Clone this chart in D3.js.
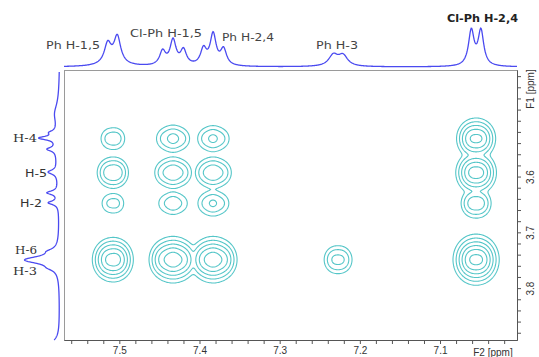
<!DOCTYPE html>
<html><head><meta charset="utf-8">
<script src="https://cdn.jsdelivr.net/npm/d3@7"></script>
<style>html,body{margin:0;padding:0;background:#fff;} svg{display:block;}</style>
</head><body>
<svg id="c" width="539" height="357"></svg>
<script>
// ================= DATA =================
const f2Domain = [7.569, 7.004];          // ppm, left -> right
const f1Domain = [3.409, 3.893];          // ppm, top -> bottom
const f2MajorTicks = [7.5, 7.4, 7.3, 7.2, 7.1];
const f1MajorTicks = [3.6, 3.7, 3.8];
const f2Title = "F2 [ppm]";
const f1Title = "F1 [ppm]";

// top (F2) projection: peak list
const topPeakPpm    = [7.5145, 7.5025, 7.508, 7.446, 7.433, 7.420, 7.395, 7.383, 7.370, 7.233, 7.221, 7.061, 7.049];
const topPeakHeight = [19, 26, 4, 14, 25, 15, 16, 31, 16, 11, 10.5, 35, 35];
const topPeakWidth  = [0.005, 0.005, 0.015, 0.0045, 0.0045, 0.0045, 0.0045, 0.0045, 0.0045, 0.007, 0.007, 0.0042, 0.0042];
const topLabels = ["Ph H-1,5", "Cl-Ph H-1,5", "Ph H-2,4", "Ph H-3", "Cl-Ph H-2,4"];

// left (F1) projection: peak list
const leftPeakPpm    = [3.487, 3.56, 3.521, 3.531, 3.551, 3.592, 3.629, 3.647, 3.734, 3.7495, 3.764, 3.905];
const leftPeakHeight = [4, 3, 6, 17, 9, 9, 11, 10, 6, 34, 5, 14];
const leftPeakWidth  = [0.02, 0.06, 0.004, 0.0038, 0.004, 0.0045, 0.004, 0.004, 0.005, 0.008, 0.005, 0.01];
const leftLabels = ["H-4", "H-5", "H-2", "H-6", "H-3"];

// 2D cross peaks: columns (F2 multiplets) x rows (F1 positions)
const colF2  = [[7.5145, 7.5025], [7.446, 7.433, 7.420], [7.395, 7.383, 7.370], [7.233, 7.221], [7.061, 7.049]];
const colRel = [[0.85, 1], [0.45, 1, 0.45], [0.45, 1, 0.45], [1, 0.95], [1, 1]];
const rowF1  = [[3.532], [3.593], [3.648], [3.745, 3.753]];
const crossAmp = [
  [2.2, 3.1, 2.9, 0,   7.5],
  [4.0, 4.0, 4.0, 0,   8.5],
  [1.9, 2.3, 2.8, 0,   3.6],
  [8.5, 9.5, 9.5, 3.0, 12.5]
];
const contourLevels = [1, 1.6, 2.56, 4.1, 6.55, 10.5, 16.8];

// ================= DRAW =================
const svg = d3.select("#c");
const L = 64, R = 517, T = 70, B = 340;
const x = d3.scaleLinear().domain(f2Domain).range([L, R]);
const y = d3.scaleLinear().domain(f1Domain).range([T, B]);

const lor = (p, c, h, w) => h / (1 + ((p - c) / w) ** 2);

// frame
svg.append("rect").attr("x", L + 0.5).attr("y", T + 0.5).attr("width", R - L).attr("height", B - T)
  .attr("fill", "none").attr("stroke", "#9a9a9a").attr("stroke-width", 1);

// ---- contours ----
const wx = 0.015, wy = 0.026;
function shape(dx, dy) {
  const q = 1 + (dx / wx) ** 2 + (dy / wy) ** 2;
  return 1 / (q * q);
}
const peaks2d = [];
crossAmp.forEach((row, r) => row.forEach((A, c) => {
  if (!A) return;
  const parts = [];
  colF2[c].forEach((f2, k) => rowF1[r].forEach(f1 => parts.push({f2, f1, w: colRel[c][k]})));
  const cf2 = d3.mean(colF2[c]), cf1 = d3.mean(rowF1[r]);
  const norm = d3.sum(parts, p => p.w * shape(cf2 - p.f2, cf1 - p.f1));
  peaks2d.push({cf2, cf1, parts: parts.map(p => ({f2: p.f2, f1: p.f1, a: A * p.w / norm}))});
}));
const nx = R - L, ny = B - T, K = 4;
const values = new Float64Array(nx * ny);
for (let j = 0; j < ny; j++) {
  const f1 = y.invert(T + j + 0.5);
  for (let i = 0; i < nx; i++) {
    const f2 = x.invert(L + i + 0.5);
    let acc = 0;
    for (const pk of peaks2d) {
      if (Math.abs(f2 - pk.cf2) > 0.12 || Math.abs(f1 - pk.cf1) > 0.2) continue;
      let v = 0;
      for (const p of pk.parts) v += p.a * shape(f2 - p.f2, f1 - p.f1);
      acc += v ** K;
    }
    values[j * nx + i] = acc ** (1 / K);
  }
}
const contours = d3.contours().size([nx, ny]).thresholds(contourLevels)(Array.from(values));
svg.append("g").attr("transform", `translate(${L},${T})`)
  .selectAll("path").data(contours).join("path")
  .attr("d", d3.geoPath())
  .attr("fill", "none").attr("stroke", "#55c6c8").attr("stroke-width", 1.1)
  .attr("stroke-linejoin", "round");

// ---- top projection ----
const topY = d3.scaleLinear().domain([0, 40]).range([67, 27]);
const topPts = d3.range(0, 901).map(k => {
  const p = f2Domain[0] + (f2Domain[1] - f2Domain[0]) * k / 900;
  return [p, d3.sum(topPeakPpm, (c, i) => lor(p, c, topPeakHeight[i], topPeakWidth[i]))];
});
svg.append("path").datum(topPts)
  .attr("d", d3.line().x(d => x(d[0])).y(d => topY(d[1])))
  .attr("fill", "none").attr("stroke", "#4a4af0").attr("stroke-width", 1.3);

// ---- left projection ----
const leftX = d3.scaleLinear().domain([0, 40]).range([60, 20]);
const leftPts = d3.range(0, 701).map(k => {
  const p = y.invert(72 + (B - 72) * k / 700);
  return [p, d3.sum(leftPeakPpm, (c, i) => lor(p, c, leftPeakHeight[i], leftPeakWidth[i]))];
});
svg.append("path").datum(leftPts)
  .attr("d", d3.line().x(d => leftX(d[1])).y(d => y(d[0])))
  .attr("fill", "none").attr("stroke", "#4a4af0").attr("stroke-width", 1.3);

// ---- axes ----
const f2Minor = d3.range(7.56, 7.0, -0.02).map(v => +v.toFixed(2));
const isMajor = (v, arr) => arr.some(m => Math.abs(m - v) < 1e-6);
const xAxis = d3.axisBottom(x).tickValues(f2Minor).tickSize(4).tickSizeOuter(0)
  .tickFormat(v => isMajor(v, f2MajorTicks) ? d3.format(".1f")(v) : "");
const gx = svg.append("g").attr("transform", `translate(0,${B})`).call(xAxis);
gx.select(".domain").attr("stroke", "#555");
gx.selectAll(".tick line").attr("stroke", "#555");
gx.selectAll(".tick text").attr("font-family", "Liberation Sans, Arial, sans-serif")
  .attr("font-size", 10).attr("fill", "#333").attr("y", 7);

const f1Minor = d3.range(3.42, 3.89, 0.02).map(v => +v.toFixed(2));
const yAxis = d3.axisRight(y).tickValues(f1Minor).tickSize(4).tickSizeOuter(0)
  .tickFormat(v => isMajor(v, f1MajorTicks) ? d3.format(".1f")(v) : "");
const gy = svg.append("g").attr("transform", `translate(${R},0)`).call(yAxis);
gy.select(".domain").attr("stroke", "#555");
gy.selectAll(".tick line").attr("stroke", "#555");
gy.selectAll(".tick text").attr("font-family", "Liberation Sans, Arial, sans-serif")
  .attr("font-size", 10).attr("fill", "#333")
  .attr("x", null).attr("dy", null)
  .attr("text-anchor", "middle")
  .attr("transform", "translate(17,0) rotate(-90)");

svg.append("text").text(f2Title).attr("x", 493).attr("y", 356).attr("text-anchor", "middle")
  .attr("font-family", "Liberation Sans, Arial, sans-serif").attr("font-size", 10).attr("fill", "#333");
svg.append("text").text(f1Title).attr("text-anchor", "middle")
  .attr("transform", "translate(534,89) rotate(-90)")
  .attr("font-family", "Liberation Sans, Arial, sans-serif").attr("font-size", 10).attr("fill", "#333");

// ---- peak labels ----
const topLabelLayout = [[46, 49, 54], [130, 37, 72], [222, 41, 52], [316, 49, 42], [447, 22, 71]];
svg.append("g").selectAll("text").data(topLabels).join("text")
  .text(d => d)
  .attr("x", (d, i) => topLabelLayout[i][0]).attr("y", (d, i) => topLabelLayout[i][1])
  .attr("textLength", (d, i) => topLabelLayout[i][2]).attr("lengthAdjust", "spacingAndGlyphs")
  .attr("font-family", "DejaVu Sans, Verdana, sans-serif").attr("font-size", 11)
  .attr("font-weight", (d, i) => i === 4 ? "bold" : "normal")
  .attr("fill", (d, i) => i === 4 ? "#222" : "#444");

const leftLabelLayout = [[13, 142, 24, true], [25, 177, 22, false], [20, 207, 22, false], [15, 254, 22, true], [13, 275, 24, true]];
svg.append("g").selectAll("text").data(leftLabels).join("text")
  .text(d => d)
  .attr("x", (d, i) => leftLabelLayout[i][0]).attr("y", (d, i) => leftLabelLayout[i][1])
  .attr("textLength", (d, i) => leftLabelLayout[i][2]).attr("lengthAdjust", "spacingAndGlyphs")
  .attr("font-family", (d, i) => leftLabelLayout[i][3] ? "DejaVu Serif, serif" : "DejaVu Sans, sans-serif")
  .attr("font-size", 11)
  .attr("fill", "#333");
</script>
</body></html>
